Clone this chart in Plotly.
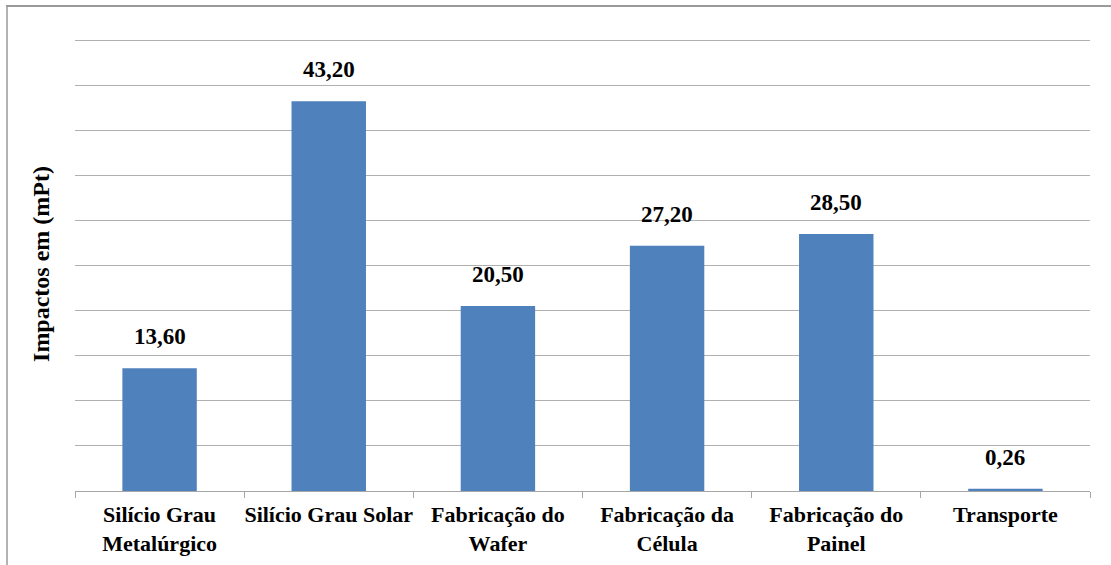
import plotly.graph_objects as go

categories = ["Silício Grau<br>Metalúrgico", "Silício Grau Solar", "Fabricação do<br>Wafer",
              "Fabricação da<br>Célula", "Fabricação do<br>Painel", "Transporte"]
values = [13.60, 43.20, 20.50, 27.20, 28.50, 0.26]
labels = ["13,60", "43,20", "20,50", "27,20", "28,50", "0,26"]
grid_values = [5, 10, 15, 20, 25, 30, 35, 40, 45, 50]

W, H = 1111, 565
L, R, T, B = 75, 21, 37, 74
pw, ph = W - L - R, H - T - B
ymax = 50 * ph / (ph - 3)

def px(x):
    return (x - L) / pw

def py(y):
    return (H - B - y) / ph

font = "Times New Roman, Liberation Serif, serif"

fig = go.Figure(go.Bar(
    x=categories, y=values,
    marker=dict(color="#4f81bd", line=dict(width=0)),
    cliponaxis=False, hoverinfo="x+y",
))

annotations = [
    dict(x=c, y=v, xref="x", yref="y", text="<b>%s</b>" % t, showarrow=False,
         yanchor="bottom", yshift=17, font=dict(family=font, size=23, color="black"))
    for c, v, t in zip(categories, values, labels)
]

fig.update_layout(
    width=W, height=H,
    margin=dict(l=L, r=R, t=T, b=B),
    paper_bgcolor="white", plot_bgcolor="white",
    bargap=0.56, showlegend=False,
    font=dict(family=font, color="black"),
    annotations=annotations,
    xaxis=dict(
        automargin=False, tickangle=0,
        showline=True, linecolor="#a6a6a6", linewidth=1,
        ticks="outside", tickson="boundaries", ticklen=6, tickcolor="#a6a6a6",
        tickfont=dict(family=font, size=22, color="black"),
        ticklabelstandoff=4,
        showgrid=False,
        tickprefix="<b>", ticksuffix="</b>",
    ),
    yaxis=dict(
        automargin=False,
        range=[0, ymax], tickvals=grid_values, showticklabels=False,
        showgrid=True, gridcolor="#b0b0b0", gridwidth=1,
        zeroline=False, showline=False,
        title=dict(text="<b>Impactos em (mPt)</b>", font=dict(family=font, size=24), standoff=17),
    ),
    shapes=[
        dict(type="line", xref="paper", yref="paper", x0=px(6), x1=px(W), y0=py(6), y1=py(6),
             line=dict(color="#9a9a9a", width=2)),
        dict(type="line", xref="paper", yref="paper", x0=px(7), x1=px(7), y0=py(6), y1=py(H),
             line=dict(color="#9a9a9a", width=1.5)),
    ],
)

fig.write_html("out.html", config={"displayModeBar": False},
               post_script="document.body.style.margin='0';")
